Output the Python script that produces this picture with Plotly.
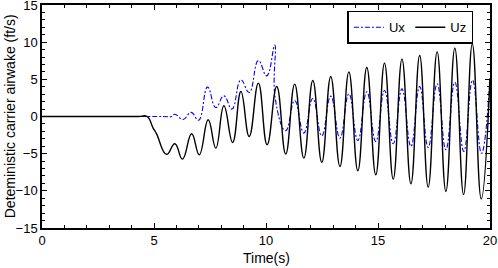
import plotly.graph_objects as go

# Uz (black, solid)
uz_t = [0, 4.3, 4.69, 4.96, 5.11, 5.56, 5.93, 6.27, 6.68, 7.02, 7.42, 7.76, 8.12, 8.51, 8.88,
        9.25, 9.66, 10.05, 10.48, 10.88, 11.28, 11.69, 12.09, 12.49, 12.89, 13.3, 13.7,
        14.1, 14.5, 14.9, 15.29, 15.68, 16.07, 16.47, 16.86, 17.24, 17.64, 18.03, 18.43,
        18.82, 19.21, 19.61, 20]
uz_v = [0, 0, 0, -1.56, -2.3, -5.1, -3.67, -5.73, -2.33, -5.15, -0.44, -4.25, 1.44, -3.49,
        3.36, -2.69, 4.49, -3.8, 4.03, -5.06, 4.35, -5.6, 4.84, -6.18, 5.38, -6.72, 6.0,
        -7.3, 6.59, -7.84, 7.18, -8.42, 7.72, -9.05, 8.2, -9.5, 8.7, -10.08, 9.19, -10.5,
        9.75, -11.08, 5.16]

# Ux (blue, dash-dot)
ux_t = [0, 5.4, 5.78, 5.93, 6.3, 6.66, 6.99, 7.39, 7.76, 8.12, 8.48, 8.88, 9.25, 9.66, 10.03,
        10.39, 10.41, 10.88, 11.28, 11.69, 12.09, 12.49, 12.89, 13.3, 13.7, 14.1, 14.5,
        14.9, 15.29, 15.68, 16.07, 16.47, 16.86, 17.24, 17.64, 18.03, 18.43, 18.83, 19.22,
        19.62, 20]
ux_v = [0, 0, 0, 0.3, -0.4, 0.56, -0.5, 3.95, 1.21, 2.78, 1.0, 4.93, 3.23, 7.53, 5.47,
        9.6, 2.47, -1.92, 2.15, -2.23, 2.42, -2.6, 2.74, -2.9, 3.05, -3.22, 3.32, -3.36,
        3.5, -3.67, 3.72, -4.03, 4.03, -4.17, 4.4, -4.48, 4.6, -4.7, 4.9, -4.95, 5.16]

x_ticks = [0, 5, 10, 15, 20]
y_ticks = [-15, -10, -5, 0, 5, 10, 15]

FONT = "Liberation Sans, Arial, Helvetica, sans-serif"

fig = go.Figure()
fig.add_trace(go.Scatter(x=ux_t, y=ux_v, name="Ux", mode="lines",
                         line=dict(color="#0000ff", width=1.1, dash="5px,2px,2px,2px",
                                   shape="spline", smoothing=1.3)))
fig.add_trace(go.Scatter(x=uz_t, y=uz_v, name="Uz", mode="lines",
                         line=dict(color="black", width=1.4, shape="spline", smoothing=1.3)))

axis_common = dict(showline=True, linecolor="black", linewidth=1.5, mirror="ticks",
                   ticks="inside", ticklen=5, tickwidth=1.2, tickcolor="black",
                   showgrid=False, zeroline=False, automargin=False,
                   ticklabeloverflow="allow",
                   tickfont=dict(family=FONT, size=13, color="black"),
                   minor=dict(ticks="inside", ticklen=3, tickwidth=1, tickcolor="black",
                              dtick=1, showgrid=False))

fig.update_xaxes(range=[0, 20], tickvals=x_ticks, **axis_common)
fig.update_yaxes(range=[-15, 15], tickvals=y_ticks, **axis_common)

fig.add_annotation(text="Time(s)", xref="paper", yref="paper", x=0.5, y=-0.135,
                   xanchor="center", yanchor="middle", showarrow=False,
                   font=dict(family=FONT, size=14, color="black"))
fig.add_annotation(text="Deteministic carrier airwake (ft/s)", xref="paper", yref="paper",
                   x=-0.072, y=0.5, xanchor="center", yanchor="middle", showarrow=False,
                   textangle=-90, font=dict(family=FONT, size=14, color="black"))

fig.update_layout(
    width=498, height=268,
    margin=dict(l=42, r=8, t=5, b=40, autoexpand=False),
    plot_bgcolor="white", paper_bgcolor="white",
    showlegend=True,
    legend=dict(orientation="h", x=0.963, y=0.974, xanchor="right", yanchor="top",
                bgcolor="white", bordercolor="black", borderwidth=1.5,
                font=dict(family=FONT, size=13, color="black"),
                itemwidth=30, tracegroupgap=0),
)

fig.write_html("out.html", config={"displayModeBar": False},
               post_script="document.body.style.margin='0';document.body.style.overflow='hidden';")
